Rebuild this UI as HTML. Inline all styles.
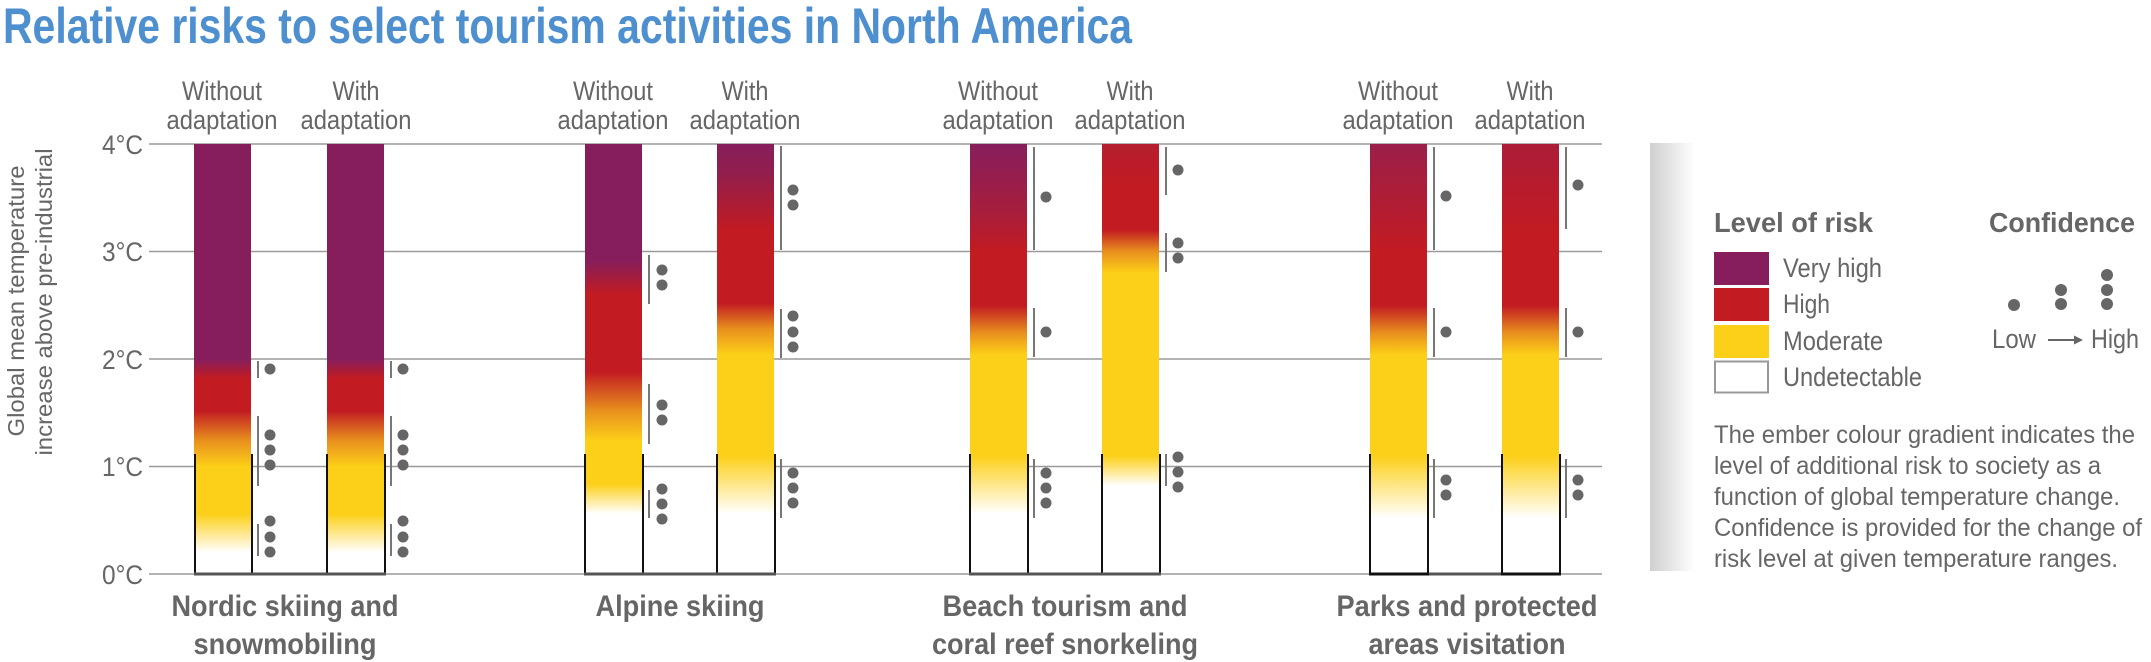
<!DOCTYPE html>
<html><head><meta charset="utf-8"><style>
html,body{margin:0;padding:0;background:#fff;}
svg{display:block;}
text{font-family:"Liberation Sans Narrow","Liberation Sans",sans-serif;}
</style></head><body>
<svg width="2151" height="662" viewBox="0 0 2151 662" xmlns="http://www.w3.org/2000/svg">
<defs>
<linearGradient id="gN" x1="0" y1="0" x2="0" y2="1">
<stop offset="0" stop-color="#861e5c"/><stop offset=".5" stop-color="#861e5c"/>
<stop offset=".545" stop-color="#c21b22"/><stop offset=".62" stop-color="#c21b22"/>
<stop offset=".69" stop-color="#e8901e"/><stop offset=".75" stop-color="#fccf18"/>
<stop offset=".86" stop-color="#fccf18"/><stop offset=".95" stop-color="#ffffff"/><stop offset="1" stop-color="#ffffff"/>
</linearGradient>
<linearGradient id="gAw" x1="0" y1="0" x2="0" y2="1">
<stop offset="0" stop-color="#861e5c"/><stop offset=".27" stop-color="#861e5c"/>
<stop offset=".35" stop-color="#c21b22"/><stop offset=".53" stop-color="#c21b22"/>
<stop offset=".62" stop-color="#e8901e"/><stop offset=".69" stop-color="#fccf18"/>
<stop offset=".79" stop-color="#fccf18"/><stop offset=".86" stop-color="#ffffff"/><stop offset="1" stop-color="#ffffff"/>
</linearGradient>
<linearGradient id="gAm" x1="0" y1="0" x2="0" y2="1">
<stop offset="0" stop-color="#861e5c"/><stop offset=".07" stop-color="#921e4c"/>
<stop offset=".2" stop-color="#c21b22"/><stop offset=".37" stop-color="#c21b22"/>
<stop offset=".43" stop-color="#e8901e"/><stop offset=".49" stop-color="#fccf18"/>
<stop offset=".725" stop-color="#fccf18"/><stop offset=".86" stop-color="#ffffff"/><stop offset="1" stop-color="#ffffff"/>
</linearGradient>
<linearGradient id="gBw" x1="0" y1="0" x2="0" y2="1">
<stop offset="0" stop-color="#861e5c"/><stop offset=".15" stop-color="#a51e3e"/>
<stop offset=".25" stop-color="#c21b22"/><stop offset=".375" stop-color="#c21b22"/>
<stop offset=".44" stop-color="#e8901e"/><stop offset=".49" stop-color="#fccf18"/>
<stop offset=".725" stop-color="#fccf18"/><stop offset=".86" stop-color="#ffffff"/><stop offset="1" stop-color="#ffffff"/>
</linearGradient>
<linearGradient id="gBm" x1="0" y1="0" x2="0" y2="1">
<stop offset="0" stop-color="#b41e2e"/><stop offset=".1" stop-color="#c21b22"/><stop offset=".2" stop-color="#c21b22"/>
<stop offset=".25" stop-color="#e8901e"/><stop offset=".3" stop-color="#fccf18"/>
<stop offset=".725" stop-color="#fccf18"/><stop offset=".795" stop-color="#ffffff"/><stop offset="1" stop-color="#ffffff"/>
</linearGradient>
<linearGradient id="gPw" x1="0" y1="0" x2="0" y2="1">
<stop offset="0" stop-color="#9b1f4a"/><stop offset=".25" stop-color="#c21b22"/><stop offset=".375" stop-color="#c21b22"/>
<stop offset=".44" stop-color="#e8901e"/><stop offset=".49" stop-color="#fccf18"/>
<stop offset=".725" stop-color="#fccf18"/><stop offset=".87" stop-color="#ffffff"/><stop offset="1" stop-color="#ffffff"/>
</linearGradient>
<linearGradient id="gPm" x1="0" y1="0" x2="0" y2="1">
<stop offset="0" stop-color="#ab1d38"/><stop offset=".2" stop-color="#c21b22"/><stop offset=".375" stop-color="#c21b22"/>
<stop offset=".44" stop-color="#e8901e"/><stop offset=".49" stop-color="#fccf18"/>
<stop offset=".725" stop-color="#fccf18"/><stop offset=".87" stop-color="#ffffff"/><stop offset="1" stop-color="#ffffff"/>
</linearGradient>
<linearGradient id="gray" x1="0" y1="0" x2="1" y2="0">
<stop offset="0" stop-color="#cfcfcf"/><stop offset="1" stop-color="#ffffff"/>
</linearGradient>
</defs>

<text x="3" y="43" font-size="50" font-weight="bold" fill="#4d8fcf" textLength="1129" lengthAdjust="spacingAndGlyphs">Relative risks to select tourism activities in North America</text>

<g stroke="#9a9a9a" stroke-width="1.5">
<line x1="149" y1="144" x2="1602" y2="144"/>
<line x1="149" y1="251.5" x2="1602" y2="251.5"/>
<line x1="149" y1="359" x2="1602" y2="359"/>
<line x1="149" y1="466.5" x2="1602" y2="466.5"/>
<line x1="149" y1="574" x2="1602" y2="574"/>
</g>
<g font-size="27" fill="#666" text-anchor="end">
<text x="143" y="154" textLength="41" lengthAdjust="spacingAndGlyphs">4°C</text>
<text x="143" y="261" textLength="41" lengthAdjust="spacingAndGlyphs">3°C</text>
<text x="143" y="369" textLength="41" lengthAdjust="spacingAndGlyphs">2°C</text>
<text x="143" y="476" textLength="41" lengthAdjust="spacingAndGlyphs">1°C</text>
<text x="143" y="584" textLength="41" lengthAdjust="spacingAndGlyphs">0°C</text>
</g>
<g font-size="23" fill="#666" text-anchor="middle">
<text transform="translate(24,301) rotate(-90)" textLength="271" lengthAdjust="spacingAndGlyphs">Global mean temperature</text>
<text transform="translate(52,302) rotate(-90)" textLength="307" lengthAdjust="spacingAndGlyphs">increase above pre-industrial</text>
</g>

<rect x="194" y="144" width="57" height="430" fill="url(#gN)"/>
<rect x="327" y="144" width="57" height="430" fill="url(#gN)"/>
<rect x="585" y="144" width="57" height="430" fill="url(#gAw)"/>
<rect x="717" y="144" width="57" height="430" fill="url(#gAm)"/>
<rect x="970" y="144" width="57" height="430" fill="url(#gBw)"/>
<rect x="1102" y="144" width="57" height="430" fill="url(#gBm)"/>
<rect x="1370" y="144" width="57" height="430" fill="url(#gPw)"/>
<rect x="1502" y="144" width="57" height="430" fill="url(#gPm)"/>

<g stroke="#111" stroke-width="2">
<line x1="195" y1="454" x2="195" y2="574"/><line x1="252" y1="454" x2="252" y2="574"/>
<line x1="327" y1="454" x2="327" y2="574"/><line x1="385" y1="454" x2="385" y2="574"/>
<line x1="585" y1="454" x2="585" y2="574"/><line x1="643" y1="454" x2="643" y2="574"/>
<line x1="717" y1="454" x2="717" y2="574"/><line x1="775" y1="454" x2="775" y2="574"/>
<line x1="970" y1="454" x2="970" y2="574"/><line x1="1028" y1="454" x2="1028" y2="574"/>
<line x1="1102" y1="454" x2="1102" y2="574"/><line x1="1160" y1="454" x2="1160" y2="574"/>
<line x1="1370" y1="454" x2="1370" y2="574"/><line x1="1428" y1="454" x2="1428" y2="574"/>
<line x1="1502" y1="454" x2="1502" y2="574"/><line x1="1560" y1="454" x2="1560" y2="574"/>
</g>
<g stroke="#555" stroke-width="3">
<line x1="194" y1="574" x2="386" y2="574"/>
<line x1="584" y1="574" x2="776" y2="574"/>
<line x1="969" y1="574" x2="1161" y2="574"/>
<line x1="1369" y1="574" x2="1561" y2="574"/>
</g>
<g stroke="#111" stroke-width="3">
<line x1="1369" y1="574" x2="1429" y2="574"/>
<line x1="1501" y1="574" x2="1561" y2="574"/>
</g>

<g stroke="#777" stroke-width="2">
<line x1="258" y1="361" x2="258" y2="378"/><line x1="258" y1="416" x2="258" y2="486"/><line x1="258" y1="524" x2="258" y2="556"/>
<line x1="391" y1="361" x2="391" y2="378"/><line x1="391" y1="416" x2="391" y2="486"/><line x1="391" y1="524" x2="391" y2="556"/>
<line x1="649" y1="255" x2="649" y2="304"/><line x1="649" y1="384" x2="649" y2="444"/><line x1="649" y1="490" x2="649" y2="518"/>
<line x1="781" y1="146" x2="781" y2="250"/><line x1="781" y1="309" x2="781" y2="358"/><line x1="781" y1="459" x2="781" y2="518"/>
<line x1="1034" y1="147" x2="1034" y2="250"/><line x1="1034" y1="308" x2="1034" y2="357"/><line x1="1034" y1="459" x2="1034" y2="518"/>
<line x1="1166" y1="147" x2="1166" y2="195"/><line x1="1166" y1="233" x2="1166" y2="272"/><line x1="1166" y1="454" x2="1166" y2="486"/>
<line x1="1434" y1="147" x2="1434" y2="250"/><line x1="1434" y1="308" x2="1434" y2="357"/><line x1="1434" y1="459" x2="1434" y2="518"/>
<line x1="1566" y1="147" x2="1566" y2="229"/><line x1="1566" y1="308" x2="1566" y2="357"/><line x1="1566" y1="459" x2="1566" y2="518"/>
</g>
<g fill="#666">
<circle cx="270" cy="369" r="5.5"/><circle cx="270" cy="435" r="5.5"/><circle cx="270" cy="450" r="5.5"/><circle cx="270" cy="465" r="5.5"/><circle cx="270" cy="521" r="5.5"/><circle cx="270" cy="537" r="5.5"/><circle cx="270" cy="552" r="5.5"/>
<circle cx="403" cy="369" r="5.5"/><circle cx="403" cy="435" r="5.5"/><circle cx="403" cy="450" r="5.5"/><circle cx="403" cy="465" r="5.5"/><circle cx="403" cy="521" r="5.5"/><circle cx="403" cy="537" r="5.5"/><circle cx="403" cy="552" r="5.5"/>
<circle cx="662" cy="270" r="5.5"/><circle cx="662" cy="285" r="5.5"/><circle cx="662" cy="405" r="5.5"/><circle cx="662" cy="420" r="5.5"/><circle cx="662" cy="489" r="5.5"/><circle cx="662" cy="504" r="5.5"/><circle cx="662" cy="519" r="5.5"/>
<circle cx="793" cy="190" r="5.5"/><circle cx="793" cy="205" r="5.5"/><circle cx="793" cy="316" r="5.5"/><circle cx="793" cy="332" r="5.5"/><circle cx="793" cy="347" r="5.5"/><circle cx="793" cy="473" r="5.5"/><circle cx="793" cy="488" r="5.5"/><circle cx="793" cy="503" r="5.5"/>
<circle cx="1046" cy="197" r="5.5"/><circle cx="1046" cy="332" r="5.5"/><circle cx="1046" cy="473" r="5.5"/><circle cx="1046" cy="488" r="5.5"/><circle cx="1046" cy="503" r="5.5"/>
<circle cx="1178" cy="170" r="5.5"/><circle cx="1178" cy="243" r="5.5"/><circle cx="1178" cy="258" r="5.5"/><circle cx="1178" cy="457" r="5.5"/><circle cx="1178" cy="472" r="5.5"/><circle cx="1178" cy="487" r="5.5"/>
<circle cx="1446" cy="196" r="5.5"/><circle cx="1446" cy="332" r="5.5"/><circle cx="1446" cy="480" r="5.5"/><circle cx="1446" cy="495" r="5.5"/>
<circle cx="1578" cy="185" r="5.5"/><circle cx="1578" cy="332" r="5.5"/><circle cx="1578" cy="480" r="5.5"/><circle cx="1578" cy="495" r="5.5"/>
</g>

<g font-size="27" fill="#666" text-anchor="middle">
<text x="222" y="100" textLength="80" lengthAdjust="spacingAndGlyphs">Without</text>
<text x="222" y="129" textLength="111" lengthAdjust="spacingAndGlyphs">adaptation</text>
<text x="356" y="100" textLength="47" lengthAdjust="spacingAndGlyphs">With</text>
<text x="356" y="129" textLength="111" lengthAdjust="spacingAndGlyphs">adaptation</text>
<text x="613" y="100" textLength="80" lengthAdjust="spacingAndGlyphs">Without</text>
<text x="613" y="129" textLength="111" lengthAdjust="spacingAndGlyphs">adaptation</text>
<text x="745" y="100" textLength="47" lengthAdjust="spacingAndGlyphs">With</text>
<text x="745" y="129" textLength="111" lengthAdjust="spacingAndGlyphs">adaptation</text>
<text x="998" y="100" textLength="80" lengthAdjust="spacingAndGlyphs">Without</text>
<text x="998" y="129" textLength="111" lengthAdjust="spacingAndGlyphs">adaptation</text>
<text x="1130" y="100" textLength="47" lengthAdjust="spacingAndGlyphs">With</text>
<text x="1130" y="129" textLength="111" lengthAdjust="spacingAndGlyphs">adaptation</text>
<text x="1398" y="100" textLength="80" lengthAdjust="spacingAndGlyphs">Without</text>
<text x="1398" y="129" textLength="111" lengthAdjust="spacingAndGlyphs">adaptation</text>
<text x="1530" y="100" textLength="47" lengthAdjust="spacingAndGlyphs">With</text>
<text x="1530" y="129" textLength="111" lengthAdjust="spacingAndGlyphs">adaptation</text>
</g>

<g font-size="30" font-weight="bold" fill="#666" text-anchor="middle">
<text x="285" y="616" textLength="227" lengthAdjust="spacingAndGlyphs">Nordic skiing and</text>
<text x="285" y="654" textLength="183" lengthAdjust="spacingAndGlyphs">snowmobiling</text>
<text x="680" y="616" textLength="169" lengthAdjust="spacingAndGlyphs">Alpine skiing</text>
<text x="1065" y="616" textLength="245" lengthAdjust="spacingAndGlyphs">Beach tourism and</text>
<text x="1065" y="654" textLength="266" lengthAdjust="spacingAndGlyphs">coral reef snorkeling</text>
<text x="1467" y="616" textLength="261" lengthAdjust="spacingAndGlyphs">Parks and protected</text>
<text x="1467" y="654" textLength="197" lengthAdjust="spacingAndGlyphs">areas visitation</text>
</g>

<rect x="1650" y="143" width="45" height="428" fill="url(#gray)"/>
<g font-size="28" font-weight="bold" fill="#666">
<text x="1714" y="232" textLength="159" lengthAdjust="spacingAndGlyphs">Level of risk</text>
<text x="1989" y="232" textLength="146" lengthAdjust="spacingAndGlyphs">Confidence</text>
</g>
<rect x="1714" y="252" width="55" height="33" fill="#861e5c"/>
<rect x="1714" y="288" width="55" height="33" fill="#c21b22"/>
<rect x="1714" y="325" width="55" height="33" fill="#fccf18"/>
<rect x="1715" y="361.5" width="53" height="31" fill="#fff" stroke="#999" stroke-width="2"/>
<g font-size="27" fill="#666">
<text x="1783" y="277" textLength="99" lengthAdjust="spacingAndGlyphs">Very high</text>
<text x="1783" y="313" textLength="47" lengthAdjust="spacingAndGlyphs">High</text>
<text x="1783" y="350" textLength="100" lengthAdjust="spacingAndGlyphs">Moderate</text>
<text x="1783" y="386" textLength="139" lengthAdjust="spacingAndGlyphs">Undetectable</text>
<text x="1992" y="348" textLength="44" lengthAdjust="spacingAndGlyphs">Low</text>
<text x="2091" y="348" textLength="48" lengthAdjust="spacingAndGlyphs">High</text>
</g>
<line x1="2048" y1="340" x2="2076" y2="340" stroke="#666" stroke-width="2"/>
<polygon points="2074,335.5 2083,340 2074,344.5" fill="#666"/>
<g fill="#666">
<circle cx="2014" cy="305" r="6"/>
<circle cx="2061" cy="290" r="6"/><circle cx="2061" cy="304" r="6"/>
<circle cx="2107" cy="275" r="6"/><circle cx="2107" cy="290" r="6"/><circle cx="2107" cy="304" r="6"/>
</g>
<g font-size="25" fill="#666">
<text x="1714" y="443" textLength="421" lengthAdjust="spacingAndGlyphs">The ember colour gradient indicates the</text>
<text x="1714" y="474" textLength="387" lengthAdjust="spacingAndGlyphs">level of additional risk to society as a</text>
<text x="1714" y="505" textLength="406" lengthAdjust="spacingAndGlyphs">function of global temperature change.</text>
<text x="1714" y="536" textLength="428" lengthAdjust="spacingAndGlyphs">Confidence is provided for the change of</text>
<text x="1714" y="567" textLength="404" lengthAdjust="spacingAndGlyphs">risk level at given temperature ranges.</text>
</g>
</svg>
</body></html>
